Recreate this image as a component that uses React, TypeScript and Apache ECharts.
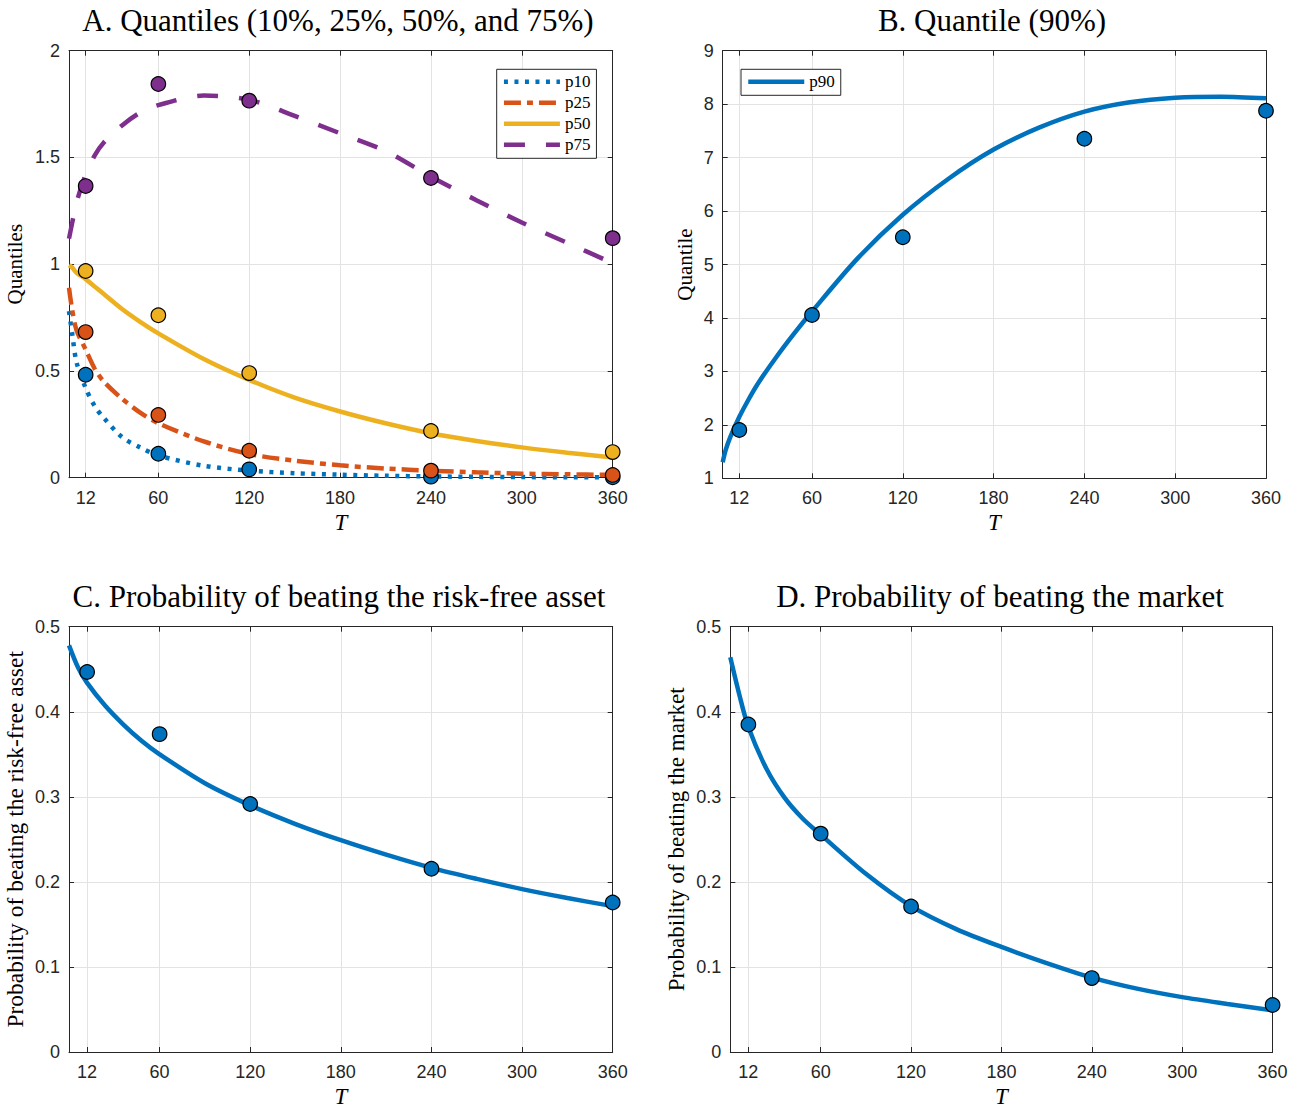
import React, { useEffect, useRef } from "react";
import * as echarts from "echarts";

// ---------- data ----------
const X_TICKS = [12, 60, 120, 180, 240, 300, 360];
const T_POINTS = [12, 60, 120, 240, 360];

// Panel A: estimated quantiles (markers)
const A_P10_PTS = [0.482, 0.112, 0.039, 0.005, 0.002];
const A_P25_PTS = [0.682, 0.294, 0.126, 0.033, 0.013];
const A_P50_PTS = [0.968, 0.761, 0.49, 0.219, 0.12];
const A_P75_PTS = [1.366, 1.844, 1.766, 1.404, 1.122];

// Panel A: fitted curves
const A_CURVE_T = [1, 3, 6, 12, 18, 24, 36, 48, 60, 90, 120, 150, 180, 210, 240, 270, 300, 330, 360];
const A_P10_CURVE = [0.78, 0.68, 0.54, 0.42, 0.335, 0.28, 0.19, 0.142, 0.104, 0.056, 0.033, 0.021, 0.014, 0.009, 0.006, 0.004, 0.003, 0.002, 0.002];
const A_P25_CURVE = [0.89, 0.79, 0.69, 0.6, 0.51, 0.45, 0.37, 0.305, 0.255, 0.17, 0.111, 0.08, 0.058, 0.043, 0.033, 0.025, 0.019, 0.016, 0.013];
const A_P50_CURVE = [0.995, 0.985, 0.96, 0.93, 0.895, 0.86, 0.79, 0.73, 0.676, 0.556, 0.458, 0.375, 0.31, 0.255, 0.208, 0.172, 0.142, 0.117, 0.095];
const A_P75_CURVE = [1.12, 1.19, 1.29, 1.42, 1.51, 1.57, 1.65, 1.71, 1.745, 1.79, 1.77, 1.695, 1.613, 1.53, 1.41, 1.3, 1.195, 1.1, 1.005];

// Panel B
const B_P90_PTS = [1.904, 4.055, 5.51, 7.353, 7.877];
const B_CURVE_T = [1, 3, 6, 12, 18, 24, 36, 48, 60, 90, 120, 150, 180, 210, 240, 270, 300, 330, 360];
const B_P90_CURVE = [1.3, 1.53, 1.77, 2.15, 2.47, 2.76, 3.25, 3.7, 4.12, 5.11, 5.93, 6.6, 7.15, 7.56, 7.86, 8.035, 8.12, 8.14, 8.11];

// Panel C
const C_PTS = [0.4467, 0.3737, 0.2915, 0.2155, 0.1757];
const CD_CURVE_T = [0, 6, 12, 24, 36, 48, 60, 90, 120, 150, 180, 210, 240, 270, 300, 330, 360];
const C_CURVE = [0.478, 0.452, 0.434, 0.407, 0.385, 0.366, 0.35, 0.316, 0.29, 0.268, 0.249, 0.232, 0.2165, 0.2035, 0.1915, 0.181, 0.1715];

// Panel D
const D_PTS = [0.385, 0.2567, 0.171, 0.0869, 0.0553];
const D_CURVE = [0.464, 0.42, 0.382, 0.333, 0.299, 0.2745, 0.2555, 0.2095, 0.1715, 0.1445, 0.1235, 0.1045, 0.0875, 0.0745, 0.0645, 0.0565, 0.049];

// ---------- styling ----------
const BLUE = "#0072BD";
const ORANGE = "#D95319";
const YELLOW = "#EDB120";
const PURPLE = "#7E2F8E";
const AXIS = "#262626";
const GRID = "#e3e3e3";
const SANS = "'Liberation Sans', Arial, sans-serif";
const SERIF = "'Liberation Serif', 'Times New Roman', serif";

const zip = (xs: number[], ys: number[]) => xs.map((x, i) => [x, ys[i]]);

const GRIDS = [
  { left: 69, top: 50.7, width: 543.7, height: 427 },
  { left: 722.7, top: 50.7, width: 543.3, height: 427.6 },
  { left: 69, top: 626.7, width: 543.7, height: 427.6 },
  { left: 730.3, top: 626.7, width: 542.3, height: 427.6 },
];

function xAxes(gi: number, min: number) {
  const common: any = {
    type: "value",
    gridIndex: gi,
    min,
    max: 360,
    axisLine: { show: true, onZero: false, lineStyle: { color: AXIS, width: 1 } },
    axisTick: { show: true, inside: true, length: 5, customValues: X_TICKS, lineStyle: { color: AXIS } },
  };
  return [
    {
      ...common,
      position: "bottom",
      axisLabel: { customValues: X_TICKS, margin: 11, fontFamily: SANS, fontSize: 18, color: AXIS },
      splitLine: { show: true, lineStyle: { color: GRID, width: 1 } },
      name: "T",
      nameLocation: "middle",
      nameGap: 33,
      nameTextStyle: { fontFamily: SERIF, fontStyle: "italic", fontSize: 23, color: "#000" },
    },
    { ...common, position: "top", axisLabel: { show: false }, splitLine: { show: false } },
  ];
}

function yAxes(gi: number, min: number, max: number, interval: number, name: string, nameGap: number, nameSize: number) {
  const common: any = {
    type: "value",
    gridIndex: gi,
    min,
    max,
    interval,
    axisLine: { show: true, onZero: false, lineStyle: { color: AXIS, width: 1 } },
    axisTick: { show: true, inside: true, length: 5, lineStyle: { color: AXIS } },
  };
  return [
    {
      ...common,
      position: "left",
      axisLabel: { margin: 9, fontFamily: SANS, fontSize: 18, color: AXIS },
      splitLine: { show: true, lineStyle: { color: GRID, width: 1 } },
      name,
      nameLocation: "middle",
      nameGap,
      nameTextStyle: { fontFamily: SERIF, fontSize: nameSize, color: "#000" },
    },
    { ...common, position: "right", axisLabel: { show: false }, splitLine: { show: false } },
  ];
}

function lineSeries(name: string, gi: number, xs: number[], ys: number[], color: string, type: any) {
  return {
    type: "line",
    name,
    xAxisIndex: gi * 2,
    yAxisIndex: gi * 2,
    data: zip(xs, ys),
    symbol: "none",
    showSymbol: false,
    smooth: 0.3,
    lineStyle: { color, width: 4.5, type, cap: "butt" },
    itemStyle: { color },
    emphasis: { disabled: true },
    z: 2,
  };
}

function dotSeries(name: string, gi: number, ys: number[], color: string) {
  return {
    type: "scatter",
    name,
    xAxisIndex: gi * 2,
    yAxisIndex: gi * 2,
    data: zip(T_POINTS, ys),
    symbol: "circle",
    symbolSize: 14.5,
    clip: false,
    itemStyle: { color, borderColor: "#000", borderWidth: 1.2, opacity: 1 },
    emphasis: { disabled: true },
    z: 3,
  };
}

const titleStyle = { fontFamily: SERIF, fontSize: 31, fontWeight: "normal" as const, color: "#000" };

const legendBase: any = {
  orient: "vertical",
  itemWidth: 56,
  itemHeight: 14,
  itemGap: 4,
  padding: [4, 6, 5, 5],
  borderColor: AXIS,
  borderWidth: 1,
  borderRadius: 0,
  backgroundColor: "#fff",
  selectedMode: false,
  itemStyle: { color: "rgba(0,0,0,0)", borderWidth: 0, opacity: 0 },
  lineStyle: { width: 4.5 },
  textStyle: { fontFamily: SERIF, fontSize: 17, lineHeight: 16, color: "#000" },
};

export default function App() {
  const ref = useRef<HTMLDivElement>(null);
  useEffect(() => {
    if (!ref.current) return;
    const chart = echarts.init(ref.current, undefined, { renderer: "svg" });
    const option: any = {
      animation: false,
      backgroundColor: "#fff",
      title: [
        { text: "A. Quantiles (10%, 25%, 50%, and 75%)", left: 338, top: 5, padding: 0, textAlign: "center", textStyle: titleStyle },
        { text: "B. Quantile (90%)", left: 992, top: 5, padding: 0, textAlign: "center", textStyle: titleStyle },
        { text: "C. Probability of beating the risk-free asset", left: 339, top: 581, padding: 0, textAlign: "center", textStyle: titleStyle },
        { text: "D. Probability of beating the market", left: 1000, top: 581, padding: 0, textAlign: "center", textStyle: titleStyle },
      ],
      legend: [
        { ...legendBase, data: ["p10", "p25", "p50", "p75"], left: 496.7, top: 69.3 },
        { ...legendBase, data: ["p90"], left: 741, top: 69.3 },
      ],
      grid: GRIDS.map((g) => ({ ...g, containLabel: false })),
      xAxis: [...xAxes(0, 1), ...xAxes(1, 1), ...xAxes(2, 0), ...xAxes(3, 0)],
      yAxis: [
        ...yAxes(0, 0, 2, 0.5, "Quantiles", 43.5, 21),
        ...yAxes(1, 1, 9, 1, "Quantile", 27, 21),
        ...yAxes(2, 0, 0.5, 0.1, "Probability of beating the risk-free asset", 42, 23.5),
        ...yAxes(3, 0, 0.5, 0.1, "Probability of beating the market", 42, 23),
      ],
      series: [
        lineSeries("p10", 0, A_CURVE_T, A_P10_CURVE, BLUE, [4, 6.5]),
        lineSeries("p25", 0, A_CURVE_T, A_P25_CURVE, ORANGE, [17, 6, 6, 6]),
        lineSeries("p50", 0, A_CURVE_T, A_P50_CURVE, YELLOW, "solid"),
        lineSeries("p75", 0, A_CURVE_T, A_P75_CURVE, PURPLE, [21, 21]),
        lineSeries("p90", 1, B_CURVE_T, B_P90_CURVE, BLUE, "solid"),
        lineSeries("prob_rf", 2, CD_CURVE_T, C_CURVE, BLUE, "solid"),
        lineSeries("prob_mkt", 3, CD_CURVE_T, D_CURVE, BLUE, "solid"),
        dotSeries("p10 est", 0, A_P10_PTS, BLUE),
        dotSeries("p25 est", 0, A_P25_PTS, ORANGE),
        dotSeries("p50 est", 0, A_P50_PTS, YELLOW),
        dotSeries("p75 est", 0, A_P75_PTS, PURPLE),
        dotSeries("p90 est", 1, B_P90_PTS, BLUE),
        dotSeries("prob_rf est", 2, C_PTS, BLUE),
        dotSeries("prob_mkt est", 3, D_PTS, BLUE),
      ],
    };
    chart.setOption(option);
    return () => chart.dispose();
  }, []);
  return (
    <div
      ref={ref}
      style={{ position: "absolute", left: 0, top: 0, width: 1306, height: 1109, background: "#fff" }}
    />
  );
}
